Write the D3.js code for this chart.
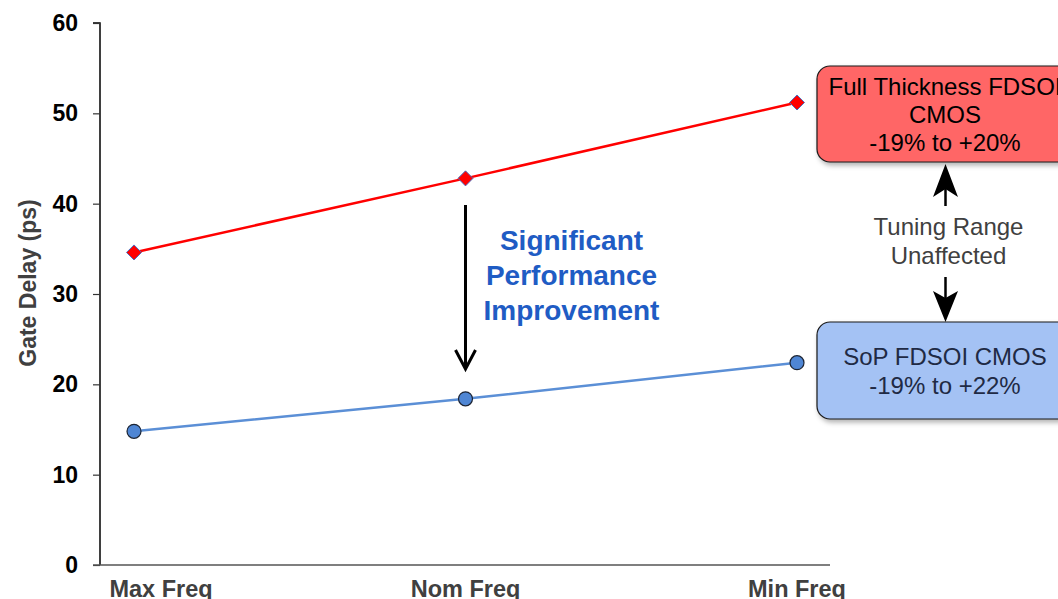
<!DOCTYPE html>
<html>
<head>
<meta charset="utf-8">
<script src="https://cdn.jsdelivr.net/npm/d3@7"></script>
<style>
  html, body { margin: 0; padding: 0; background: #ffffff; }
  svg { display: block; font-family: "Liberation Sans", Arial, sans-serif; }
</style>
</head>
<body>
<svg id="chart" width="1058" height="599"></svg>
<script>
// Gate delay at three operating points for two CMOS technologies
const categories = ["Max Freq", "Nom Freq", "Min Freq"];
const fullThickness = [34.6, 42.8, 51.2];
const sopFdsoi = [14.8, 18.4, 22.4];
const yTicks = [0, 10, 20, 30, 40, 50, 60];

const svg = d3.select("#chart");

const x = d3.scalePoint().domain(categories).range([134, 797]);
const y = d3.scaleLinear().domain([0, 60]).range([565, 23]);

const defs = svg.append("defs");
const shadow = defs.append("filter").attr("id", "shadow")
  .attr("x", "-10%").attr("y", "-10%").attr("width", "130%").attr("height", "140%");
shadow.append("feDropShadow").attr("dx", 2).attr("dy", 3).attr("stdDeviation", 2.5)
  .attr("flood-color", "#000").attr("flood-opacity", 0.3);

// Y axis
const yAxis = svg.append("g").attr("transform", "translate(100,0)")
  .call(d3.axisLeft(y).tickValues(yTicks).tickSize(7).tickPadding(15).tickFormat(d3.format("d")));
yAxis.select(".domain").attr("stroke", "#000").attr("stroke-width", 1.5).attr("d", "M-7,23H0V565");
yAxis.selectAll(".tick line").attr("stroke", "#333").attr("stroke-width", 1.2);
yAxis.selectAll(".tick text").attr("font-size", 23).attr("font-weight", "bold").attr("fill", "#000")
  .attr("font-family", "'Liberation Sans', Arial, sans-serif");

// X axis baseline and category labels
svg.append("line").attr("x1", 93).attr("x2", 830).attr("y1", 565).attr("y2", 565)
  .attr("stroke", "#555").attr("stroke-width", 1.5);
svg.append("g").selectAll("text").data(categories).join("text")
  .attr("x", d => x(d)).attr("dx", (d, i) => i === 0 ? 27 : 0)
  .attr("y", 597).attr("text-anchor", "middle")
  .attr("font-size", 23.5).attr("font-weight", "bold").attr("fill", "#404040")
  .text(d => d);

// Y axis title
svg.append("text").attr("transform", "translate(36,283) rotate(-90)")
  .attr("text-anchor", "middle").attr("font-size", 23).attr("font-weight", "bold")
  .attr("fill", "#404040").text("Gate Delay (ps)");

const line = d3.line().x((d, i) => x(categories[i])).y(d => y(d));

// Full thickness series
svg.append("path").datum(fullThickness).attr("d", line)
  .attr("fill", "none").attr("stroke", "#ff0000").attr("stroke-width", 2.5);
svg.append("g").selectAll("path").data(fullThickness).join("path")
  .attr("d", d3.symbol(d3.symbolDiamond2, 144))
  .attr("transform", (d, i) => `translate(${x(categories[i])},${y(d)})`)
  .attr("fill", "#ff0000").attr("stroke", "#4a6fc0").attr("stroke-width", 1);

// SoP series
svg.append("path").datum(sopFdsoi).attr("d", line)
  .attr("fill", "none").attr("stroke", "#5b8fd6").attr("stroke-width", 2.5);
svg.append("g").selectAll("circle").data(sopFdsoi).join("circle")
  .attr("cx", (d, i) => x(categories[i])).attr("cy", d => y(d)).attr("r", 7)
  .attr("fill", "#4f86d4").attr("stroke", "#1c2433").attr("stroke-width", 1.2);

// Improvement arrow between the series at the nominal point
const ax = x("Nom Freq");
svg.append("line").attr("x1", ax).attr("x2", ax).attr("y1", 205).attr("y2", 369)
  .attr("stroke", "#000").attr("stroke-width", 3);
svg.append("path").attr("d", `M${ax - 10},350L${ax},369L${ax + 10},350`)
  .attr("fill", "none").attr("stroke", "#000").attr("stroke-width", 3);

svg.append("g").selectAll("text")
  .data(["Significant", "Performance", "Improvement"]).join("text")
  .attr("x", 571.5).attr("y", (d, i) => 250 + i * 35).attr("text-anchor", "middle")
  .attr("font-size", 28).attr("font-weight", "bold").attr("fill", "#1f5cc4")
  .text(d => d);

// Callout boxes
function callout(y0, h, fill, lines, color, baseY, gap) {
  svg.append("rect").attr("x", 817).attr("y", y0).attr("width", 280).attr("height", h)
    .attr("rx", 13).attr("ry", 13).attr("fill", fill)
    .attr("stroke", "#1a1a1a").attr("stroke-width", 1.2).attr("filter", "url(#shadow)");
  svg.append("g").selectAll("text").data(lines).join("text")
    .attr("x", 945).attr("y", (d, i) => baseY + i * gap).attr("text-anchor", "middle")
    .attr("font-size", 24).attr("fill", color).text(d => d);
}
callout(66, 96, "#ff6666", ["Full Thickness FDSOI", "CMOS", "-19% to +20%"], "#000", 95, 28);
callout(322, 97, "#a4c2f4", ["SoP FDSOI CMOS", "-19% to +22%"], "#1f2a44", 365, 29);

// Tuning range arrows and note
svg.append("line").attr("x1", 945.5).attr("x2", 945.5).attr("y1", 206).attr("y2", 185)
  .attr("stroke", "#000").attr("stroke-width", 2.5);
svg.append("path").attr("d", "M933,197L945.5,164L958,197L945.5,189Z").attr("fill", "#000");
svg.append("line").attr("x1", 945.5).attr("x2", 945.5).attr("y1", 277).attr("y2", 300)
  .attr("stroke", "#000").attr("stroke-width", 2.5);
svg.append("path").attr("d", "M933,291L945.5,322L958,291L945.5,298Z").attr("fill", "#000");
svg.append("g").selectAll("text").data(["Tuning Range", "Unaffected"]).join("text")
  .attr("x", 948.5).attr("y", (d, i) => 235 + i * 29).attr("text-anchor", "middle")
  .attr("font-size", 24).attr("fill", "#404040").text(d => d);
</script>
</body>
</html>
